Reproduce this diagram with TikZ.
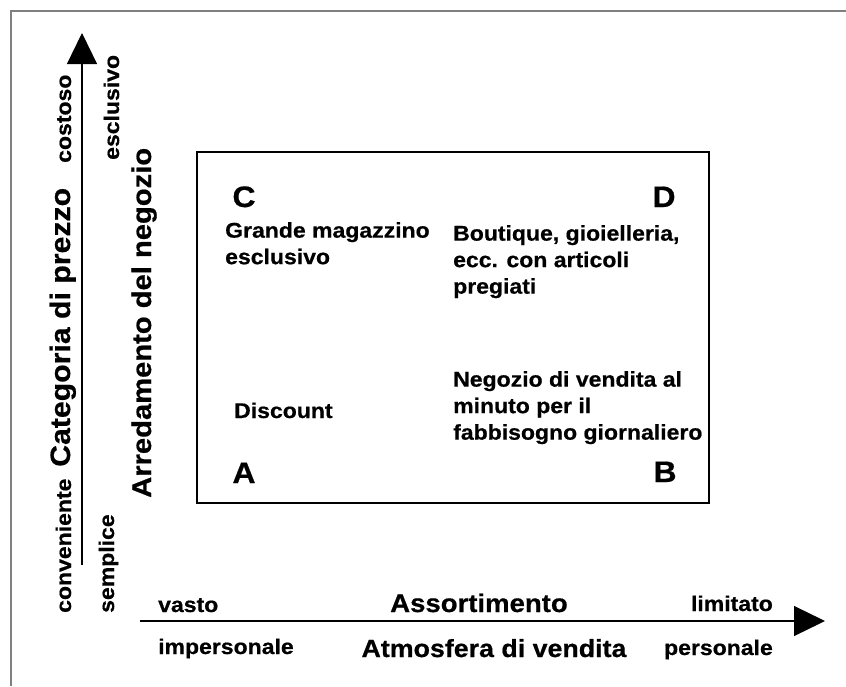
\documentclass[tikz,border=0pt]{standalone}
\usepackage{fontspec}
\setmainfont[FakeStretch=1.08, BoldFeatures={FakeBold=0.6}]{Liberation Sans}
\usetikzlibrary{arrows.meta}

\begin{document}
\begin{tikzpicture}[x=1pt,y=-1pt,
  txt/.style={font=\bfseries\fontsize{21.3}{26.5}\selectfont, inner sep=0pt, align=left},
  big/.style={font=\bfseries\fontsize{#1}{28}\selectfont, inner sep=0pt, anchor=base},
  title/.style={font=\bfseries\fontsize{#1}{30}\selectfont, inner sep=0pt, rotate=90, anchor=base west},
  letter/.style={font=\bfseries\fontsize{29.6}{32}\selectfont, inner sep=0pt, anchor=base},
  axis/.style={line width=1.2pt, -{Triangle[length=31pt,width=30pt]}}]
  \useasboundingbox (0,0) rectangle (846,686);
  % Frame
  \draw[gray, line width=1.5pt] (11,686) -- (11,11) -- (846,11);
  % Axis
  \coordinate (yo) at (82,565);
  \coordinate (ytip) at (82,33);
  \coordinate (xo) at (140,621);
  \coordinate (xtip) at (825,621);
  \draw[axis] (yo) -- (ytip);
  \draw[axis] (xo) -- (xtip);
  % Box
  \draw[line width=1.5pt] (197,152) rectangle (709,503);
  \node[letter] (C) at (244,207) {C};
  \node[letter] (D) at (664,207) {D};
  \node[letter] (A) at (244,483) {A};
  \node[letter] (B) at (665,482) {B};
  \node[txt, anchor=north west] (grande) at (225,222) {Grande magazzino\\esclusivo};
  \node[txt, anchor=north west] (boutique) at (453,225) {Boutique, gioielleria,\\ecc. con articoli\\pregiati};
  \node[txt, anchor=north west] (negozio) at (453,371) {Negozio di vendita al\\minuto per il\\fabbisogno giornaliero};
  \node[txt, anchor=base west] (discount) at (234,418) {Discount};
  % Horizontal labels
  \node[txt, anchor=base west] (vasto) at (158,612) {vasto};
  \node[txt, anchor=base west] (imp) at (158,654) {impersonale};
  \node[txt, anchor=base east] (lim) at (773,611) {limitato};
  \node[txt, anchor=base east] (pers) at (773,655) {personale};
  \node[big=25.5] (assort) at (479,612) {Assortimento};
  \node[big=24.8] (atmos) at (494,657) {Atmosfera di vendita};
  % Vertical labels
  \node[txt, rotate=90, anchor=base west] (cost) at (71,163) {costoso};
  \node[txt, rotate=90, anchor=base west] (conv) at (71,613) {conveniente};
  \node[txt, rotate=90, anchor=base west] (escl) at (119,160) {esclusivo};
  \node[txt, rotate=90, anchor=base west] (sempl) at (114,613) {semplice};
  \node[title=28] (categ) at (70,467) {Categoria di prezzo};
  \node[title=27] (arred) at (151,498) {Arredamento del negozio};
\end{tikzpicture}
\end{document}
